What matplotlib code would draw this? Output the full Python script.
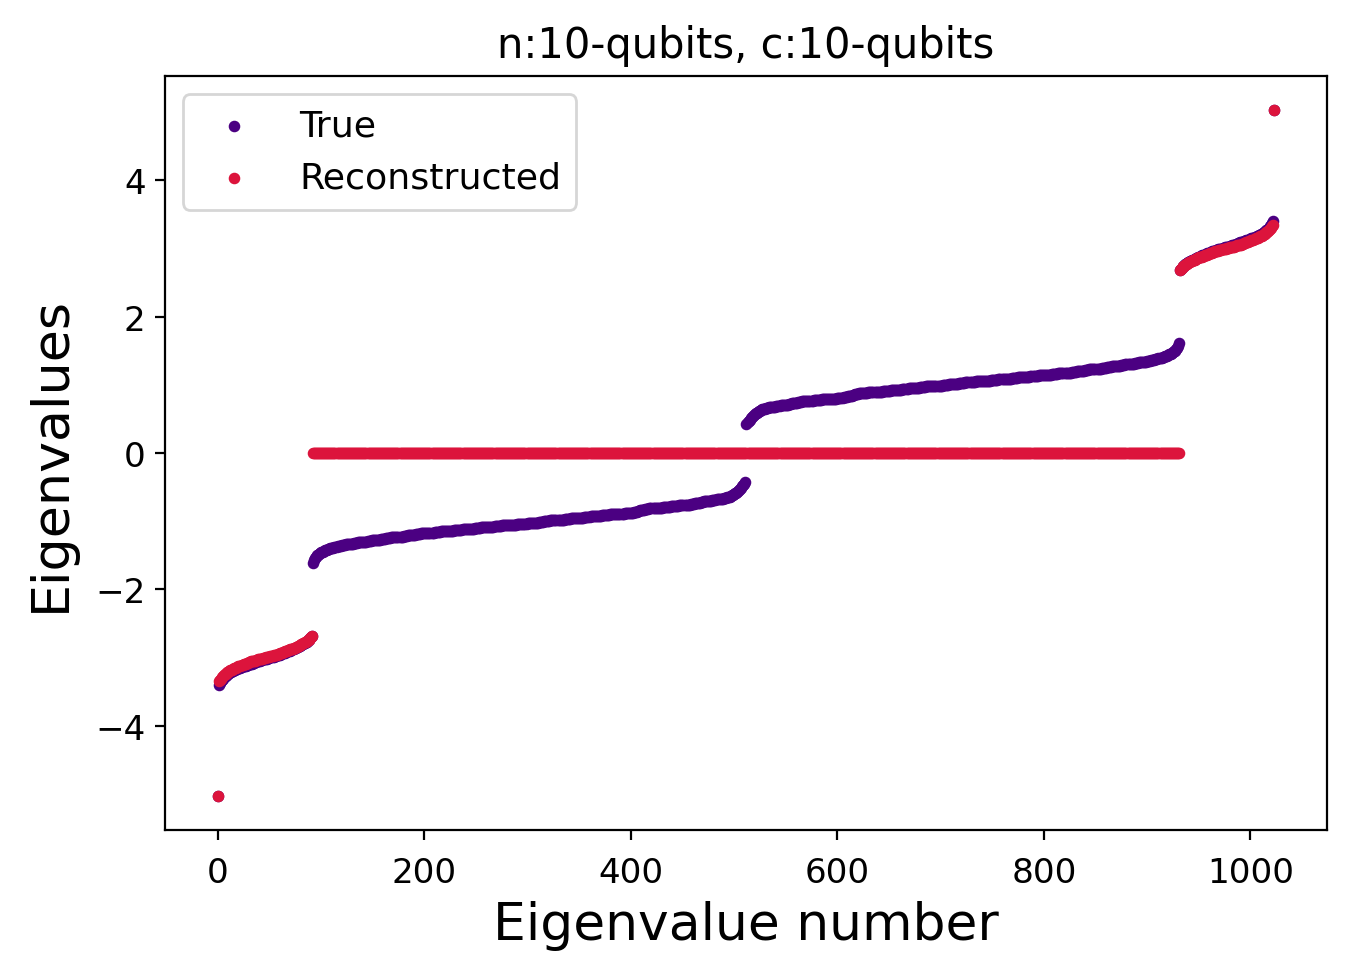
import numpy as np
import matplotlib
matplotlib.use('Agg')
import matplotlib.pyplot as plt

# eigenvalues, sorted, 1024 of them (10 qubits)
true_min = [-5.03]
true_low_tail = [
    -3.41, -3.38, -3.35, -3.33, -3.31, -3.29, -3.28, -3.27, -3.25, -3.24,
    -3.23, -3.22, -3.21, -3.20, -3.20, -3.19, -3.18, -3.17, -3.17, -3.16,
    -3.15, -3.15, -3.14, -3.13, -3.13, -3.12, -3.12, -3.11, -3.11, -3.10,
    -3.10, -3.09, -3.09, -3.08, -3.08, -3.07, -3.07, -3.06, -3.06, -3.05,
    -3.05, -3.04, -3.04, -3.03, -3.03, -3.03, -3.02, -3.02, -3.01, -3.01,
    -3.00, -3.00, -2.99, -2.99, -2.98, -2.98, -2.97, -2.97, -2.96, -2.96,
    -2.95, -2.94, -2.94, -2.93, -2.93, -2.92, -2.91, -2.91, -2.90, -2.90,
    -2.89, -2.88, -2.88, -2.87, -2.86, -2.86, -2.85, -2.84, -2.83, -2.83,
    -2.82, -2.81, -2.80, -2.79, -2.78, -2.77, -2.75, -2.74, -2.72, -2.70, -2.68]
true_low_band = [
    -1.62, -1.57, -1.54, -1.52, -1.50, -1.49, -1.48, -1.47, -1.46, -1.45, -1.45, -1.44, -1.43, -1.42, -1.42, -1.41, -1.41, -1.40, -1.40, -1.39,
    -1.39, -1.38, -1.38, -1.38, -1.37, -1.37, -1.36, -1.36, -1.35, -1.35, -1.35, -1.35, -1.34, -1.34, -1.34, -1.34, -1.33, -1.33, -1.33, -1.33,
    -1.32, -1.32, -1.32, -1.32, -1.31, -1.31, -1.31, -1.31, -1.30, -1.30, -1.30, -1.30, -1.30, -1.29, -1.29, -1.29, -1.29, -1.28, -1.28, -1.28,
    -1.28, -1.27, -1.27, -1.27, -1.27, -1.27, -1.26, -1.26, -1.26, -1.26, -1.26, -1.25, -1.25, -1.25, -1.25, -1.25, -1.24, -1.24, -1.24, -1.24,
    -1.24, -1.24, -1.23, -1.23, -1.23, -1.23, -1.23, -1.23, -1.22, -1.22, -1.22, -1.22, -1.21, -1.21, -1.21, -1.21, -1.20, -1.20, -1.20, -1.20,
    -1.19, -1.19, -1.19, -1.19, -1.19, -1.18, -1.18, -1.18, -1.18, -1.18, -1.18, -1.17, -1.17, -1.17, -1.17, -1.17, -1.17, -1.17, -1.16, -1.16,
    -1.16, -1.16, -1.16, -1.16, -1.15, -1.15, -1.15, -1.15, -1.15, -1.15, -1.14, -1.14, -1.14, -1.14, -1.14, -1.14, -1.14, -1.13, -1.13, -1.13,
    -1.13, -1.13, -1.13, -1.13, -1.13, -1.12, -1.12, -1.12, -1.12, -1.12, -1.12, -1.11, -1.11, -1.11, -1.11, -1.11, -1.11, -1.10, -1.10, -1.10,
    -1.10, -1.10, -1.10, -1.09, -1.09, -1.09, -1.09, -1.09, -1.09, -1.08, -1.08, -1.08, -1.08, -1.08, -1.08, -1.08, -1.07, -1.07, -1.07, -1.07,
    -1.07, -1.07, -1.07, -1.06, -1.06, -1.06, -1.06, -1.06, -1.06, -1.06, -1.05, -1.05, -1.05, -1.05, -1.05, -1.05, -1.05, -1.05, -1.04, -1.04,
    -1.04, -1.04, -1.04, -1.04, -1.04, -1.04, -1.04, -1.04, -1.03, -1.03, -1.03, -1.03, -1.03, -1.03, -1.02, -1.02, -1.02, -1.02, -1.02, -1.01,
    -1.01, -1.01, -1.01, -1.01, -1.00, -1.00, -1.00, -1.00, -1.00, -1.00, -0.99, -0.99, -0.99, -0.99, -0.99, -0.99, -0.99, -0.99, -0.98, -0.98,
    -0.98, -0.98, -0.98, -0.98, -0.97, -0.97, -0.97, -0.97, -0.97, -0.97, -0.96, -0.96, -0.96, -0.96, -0.96, -0.96, -0.95, -0.95, -0.95, -0.95,
    -0.95, -0.95, -0.95, -0.94, -0.94, -0.94, -0.94, -0.94, -0.94, -0.93, -0.93, -0.93, -0.93, -0.93, -0.92, -0.92, -0.92, -0.92, -0.92, -0.92,
    -0.91, -0.91, -0.91, -0.91, -0.91, -0.91, -0.91, -0.91, -0.90, -0.90, -0.90, -0.90, -0.90, -0.90, -0.89, -0.89, -0.89, -0.89, -0.89, -0.89,
    -0.89, -0.89, -0.88, -0.88, -0.88, -0.88, -0.88, -0.88, -0.88, -0.88, -0.88, -0.87, -0.87, -0.86, -0.86, -0.85, -0.85, -0.84, -0.84, -0.83,
    -0.83, -0.83, -0.82, -0.82, -0.82, -0.82, -0.81, -0.81, -0.81, -0.81, -0.81, -0.81, -0.80, -0.80, -0.80, -0.80, -0.80, -0.80, -0.80, -0.79,
    -0.79, -0.79, -0.79, -0.79, -0.79, -0.79, -0.79, -0.78, -0.78, -0.78, -0.78, -0.78, -0.78, -0.78, -0.78, -0.77, -0.77, -0.77, -0.77, -0.77,
    -0.77, -0.77, -0.76, -0.76, -0.76, -0.76, -0.75, -0.75, -0.75, -0.75, -0.74, -0.74, -0.74, -0.73, -0.73, -0.73, -0.72, -0.72, -0.72, -0.71,
    -0.71, -0.71, -0.71, -0.70, -0.70, -0.70, -0.70, -0.69, -0.69, -0.69, -0.69, -0.68, -0.68, -0.68, -0.68, -0.67, -0.67, -0.67, -0.66, -0.66,
    -0.66, -0.65, -0.65, -0.64, -0.64, -0.63, -0.62, -0.61, -0.60, -0.59, -0.58, -0.57, -0.56, -0.55, -0.53, -0.51, -0.49, -0.47, -0.45, -0.42]
true_high_band = [
    0.42, 0.45, 0.47, 0.49, 0.51, 0.53, 0.55, 0.56, 0.57, 0.58, 0.59, 0.60, 0.61, 0.62, 0.63, 0.64, 0.64, 0.65, 0.65, 0.66,
    0.66, 0.66, 0.67, 0.67, 0.67, 0.68, 0.68, 0.68, 0.68, 0.69, 0.69, 0.69, 0.69, 0.70, 0.70, 0.70, 0.70, 0.71, 0.71, 0.71,
    0.71, 0.72, 0.72, 0.72, 0.73, 0.73, 0.73, 0.74, 0.74, 0.74, 0.75, 0.75, 0.75, 0.75, 0.76, 0.76, 0.76, 0.76, 0.77, 0.77,
    0.77, 0.77, 0.77, 0.77, 0.77, 0.78, 0.78, 0.78, 0.78, 0.78, 0.78, 0.78, 0.78, 0.79, 0.79, 0.79, 0.79, 0.79, 0.79, 0.79,
    0.79, 0.80, 0.80, 0.80, 0.80, 0.80, 0.80, 0.80, 0.81, 0.81, 0.81, 0.81, 0.81, 0.81, 0.82, 0.82, 0.82, 0.82, 0.83, 0.83,
    0.83, 0.84, 0.84, 0.85, 0.85, 0.86, 0.86, 0.87, 0.87, 0.88, 0.88, 0.88, 0.88, 0.88, 0.88, 0.88, 0.88, 0.88, 0.89, 0.89,
    0.89, 0.89, 0.89, 0.89, 0.89, 0.89, 0.90, 0.90, 0.90, 0.90, 0.90, 0.90, 0.91, 0.91, 0.91, 0.91, 0.91, 0.91, 0.91, 0.91,
    0.92, 0.92, 0.92, 0.92, 0.92, 0.92, 0.93, 0.93, 0.93, 0.93, 0.93, 0.94, 0.94, 0.94, 0.94, 0.94, 0.94, 0.95, 0.95, 0.95,
    0.95, 0.95, 0.96, 0.96, 0.96, 0.96, 0.96, 0.96, 0.97, 0.97, 0.97, 0.97, 0.97, 0.97, 0.98, 0.98, 0.98, 0.98, 0.98, 0.98,
    0.98, 0.98, 0.99, 0.99, 0.99, 0.99, 0.99, 0.99, 0.99, 0.99, 1.00, 1.00, 1.00, 1.00, 1.00, 1.00, 1.01, 1.01, 1.01, 1.01,
    1.01, 1.02, 1.02, 1.02, 1.02, 1.02, 1.03, 1.03, 1.03, 1.03, 1.03, 1.03, 1.04, 1.04, 1.04, 1.04, 1.04, 1.04, 1.04, 1.04,
    1.04, 1.04, 1.05, 1.05, 1.05, 1.05, 1.05, 1.05, 1.05, 1.05, 1.06, 1.06, 1.06, 1.06, 1.06, 1.06, 1.06, 1.07, 1.07, 1.07,
    1.07, 1.07, 1.07, 1.07, 1.08, 1.08, 1.08, 1.08, 1.08, 1.08, 1.08, 1.09, 1.09, 1.09, 1.09, 1.09, 1.09, 1.10, 1.10, 1.10,
    1.10, 1.10, 1.10, 1.11, 1.11, 1.11, 1.11, 1.11, 1.11, 1.12, 1.12, 1.12, 1.12, 1.12, 1.12, 1.13, 1.13, 1.13, 1.13, 1.13,
    1.13, 1.13, 1.13, 1.14, 1.14, 1.14, 1.14, 1.14, 1.14, 1.14, 1.15, 1.15, 1.15, 1.15, 1.15, 1.15, 1.16, 1.16, 1.16, 1.16,
    1.16, 1.16, 1.17, 1.17, 1.17, 1.17, 1.17, 1.17, 1.17, 1.18, 1.18, 1.18, 1.18, 1.18, 1.18, 1.19, 1.19, 1.19, 1.19, 1.19,
    1.20, 1.20, 1.20, 1.20, 1.21, 1.21, 1.21, 1.21, 1.22, 1.22, 1.22, 1.22, 1.23, 1.23, 1.23, 1.23, 1.23, 1.23, 1.24, 1.24,
    1.24, 1.24, 1.24, 1.24, 1.25, 1.25, 1.25, 1.25, 1.25, 1.26, 1.26, 1.26, 1.26, 1.26, 1.27, 1.27, 1.27, 1.27, 1.27, 1.28,
    1.28, 1.28, 1.28, 1.29, 1.29, 1.29, 1.29, 1.30, 1.30, 1.30, 1.30, 1.30, 1.31, 1.31, 1.31, 1.31, 1.32, 1.32, 1.32, 1.32,
    1.33, 1.33, 1.33, 1.33, 1.34, 1.34, 1.34, 1.34, 1.35, 1.35, 1.35, 1.35, 1.36, 1.36, 1.37, 1.37, 1.38, 1.38, 1.38, 1.39,
    1.39, 1.40, 1.40, 1.41, 1.41, 1.42, 1.42, 1.43, 1.44, 1.45, 1.45, 1.46, 1.47, 1.48, 1.49, 1.50, 1.52, 1.54, 1.57, 1.62]
true_high_tail = [
    2.68, 2.70, 2.72, 2.74, 2.75, 2.77, 2.78, 2.79, 2.80, 2.81, 2.82,
    2.83, 2.83, 2.84, 2.85, 2.86, 2.86, 2.87, 2.88, 2.88, 2.89,
    2.90, 2.90, 2.91, 2.91, 2.92, 2.93, 2.93, 2.94, 2.94, 2.95,
    2.96, 2.96, 2.97, 2.97, 2.98, 2.98, 2.99, 2.99, 3.00, 3.00,
    3.01, 3.01, 3.02, 3.02, 3.03, 3.03, 3.03, 3.04, 3.04, 3.05,
    3.05, 3.06, 3.06, 3.07, 3.07, 3.08, 3.08, 3.09, 3.09, 3.10,
    3.10, 3.11, 3.11, 3.12, 3.12, 3.13, 3.13, 3.14, 3.15, 3.15,
    3.16, 3.17, 3.17, 3.18, 3.19, 3.20, 3.20, 3.21, 3.22, 3.23,
    3.24, 3.25, 3.27, 3.28, 3.29, 3.31, 3.33, 3.35, 3.38, 3.41]
true_max = [5.03]

rec_min = [-5.03]
rec_low_tail = [
    -3.35, -3.33, -3.31, -3.29, -3.28, -3.26, -3.25, -3.24, -3.22, -3.21,
    -3.20, -3.19, -3.18, -3.18, -3.17, -3.16, -3.15, -3.15, -3.14, -3.13,
    -3.13, -3.12, -3.11, -3.11, -3.10, -3.10, -3.09, -3.08, -3.08, -3.07,
    -3.07, -3.06, -3.06, -3.05, -3.05, -3.05, -3.04, -3.04, -3.03, -3.03,
    -3.03, -3.02, -3.02, -3.01, -3.01, -3.01, -3.00, -3.00, -2.99, -2.99,
    -2.98, -2.98, -2.98, -2.97, -2.97, -2.96, -2.96, -2.95, -2.95, -2.94,
    -2.93, -2.93, -2.92, -2.92, -2.91, -2.90, -2.90, -2.89, -2.89, -2.88,
    -2.88, -2.87, -2.87, -2.86, -2.86, -2.85, -2.84, -2.83, -2.83, -2.82,
    -2.81, -2.80, -2.79, -2.78, -2.78, -2.76, -2.75, -2.74, -2.72, -2.70, -2.68]
rec_middle = [0.0] * 840   # everything between the tails comes back as zero
rec_high_tail = [
    2.68, 2.70, 2.72, 2.74, 2.75, 2.76, 2.78, 2.78, 2.79, 2.80, 2.81,
    2.82, 2.83, 2.83, 2.84, 2.85, 2.86, 2.86, 2.87, 2.87, 2.88,
    2.88, 2.89, 2.89, 2.90, 2.90, 2.91, 2.92, 2.92, 2.93, 2.93,
    2.94, 2.95, 2.95, 2.96, 2.96, 2.97, 2.97, 2.98, 2.98, 2.98,
    2.99, 2.99, 3.00, 3.00, 3.01, 3.01, 3.01, 3.02, 3.02, 3.03,
    3.03, 3.03, 3.04, 3.04, 3.05, 3.05, 3.05, 3.06, 3.06, 3.07,
    3.07, 3.08, 3.08, 3.09, 3.10, 3.10, 3.11, 3.11, 3.12, 3.13,
    3.13, 3.14, 3.15, 3.15, 3.16, 3.17, 3.18, 3.18, 3.19, 3.20,
    3.21, 3.22, 3.24, 3.25, 3.26, 3.28, 3.29, 3.31, 3.33, 3.35]
rec_max = [5.03]

true_vals = np.array(true_min + true_low_tail + true_low_band + true_high_band + true_high_tail + true_max)
rec_vals = np.array(rec_min + rec_low_tail + rec_middle + rec_high_tail + rec_max)
idx = np.arange(len(true_vals))

fig = plt.figure(figsize=(6.755, 4.895), dpi=200)
ax = fig.add_axes([0.1221, 0.1512, 0.8601, 0.7701])

ax.scatter(idx, true_vals, s=10, color='indigo', label='True')
ax.scatter(idx, rec_vals, s=10, color='crimson', label='Reconstructed')

ax.set_title('n:10-qubits, c:10-qubits', fontsize=15, pad=7)
ax.set_xlabel('Eigenvalue number', fontsize=18.7, labelpad=4)
ax.set_ylabel('Eigenvalues', fontsize=18.8, labelpad=7)
ax.tick_params(labelsize=12.3)
ax.tick_params(axis='x', pad=6)
ax.legend(fontsize=13.1, loc='upper left')

fig.savefig('out.png', dpi=200)
